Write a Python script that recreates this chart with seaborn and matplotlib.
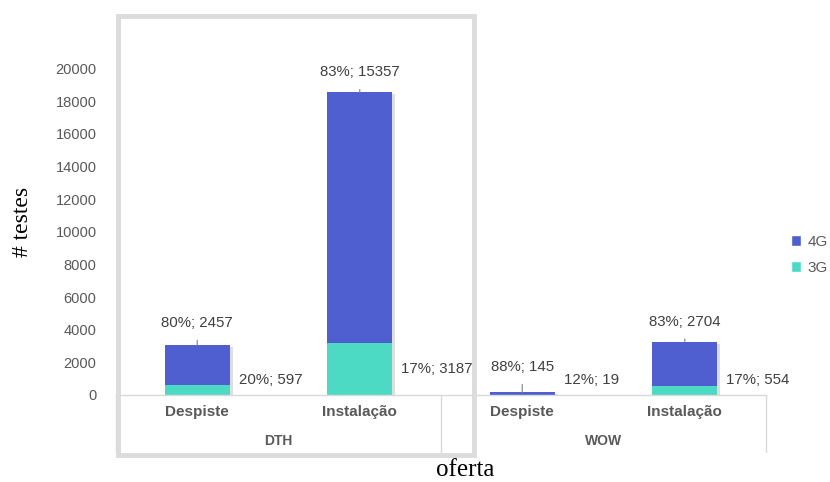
import matplotlib
matplotlib.use("Agg")
import matplotlib.pyplot as plt
import matplotlib.patheffects as pe
from matplotlib.patches import Patch, Rectangle
from matplotlib.transforms import blended_transform_factory
import seaborn as sns
import pandas as pd

# Data
ofertas = ["DTH", "DTH", "WOW", "WOW"]
tipos = ["Despiste", "Instalação", "Despiste", "Instalação"]
testes_4g = [2457, 15357, 145, 2704]
testes_3g = [597, 3187, 19, 554]
pct_4g = [80, 83, 88, 83]
pct_3g = [20, 17, 12, 17]
y_ticks = [0, 2000, 4000, 6000, 8000, 10000, 12000, 14000, 16000, 18000, 20000]

C4G = "#4F5FD0"
C3G = "#4CDAC4"
TXT = "#404040"
TICK = "#595959"

sns.set_theme(style="white")
plt.rcParams["font.family"] = ["Liberation Sans", "DejaVu Sans"]

df = pd.DataFrame({
    "oferta": ofertas,
    "tipo": tipos,
    "4G": testes_4g,
    "3G": testes_3g,
})
df["key"] = df["oferta"] + "|" + df["tipo"]
df["total"] = df["4G"] + df["3G"]

W, H = 830, 482
fig = plt.figure(figsize=(W / 100, H / 100), dpi=100)
ax = fig.add_axes([116 / W, (H - 395) / H, 650 / W, (395 - 36) / H])

sns.barplot(data=df, x="key", y="total", color=C4G, saturation=1, width=0.4,
            ax=ax, errorbar=None)
n_total = len(ax.patches)
sns.barplot(data=df, x="key", y="3G", color=C3G, saturation=1, width=0.4,
            ax=ax, errorbar=None)

for p in ax.patches[:n_total]:
    p.set_path_effects([pe.SimplePatchShadow(offset=(2, -1.5), shadow_rgbFace="#8a8a8a", alpha=0.28),
                        pe.Normal()])
for p in ax.patches:
    p.set_edgecolor("none")

ax.set_xlim(-0.5, 3.5)
ax.set_ylim(0, 22000)
ax.set_yticks(y_ticks)
ax.set_yticklabels([str(v) for v in y_ticks], fontsize=10.5, color=TICK)
ax.tick_params(axis="y", length=0, pad=14)
ax.set_xticks([])
ax.set_xlabel("")
ax.set_ylabel("")
for s in ["left", "right", "top"]:
    ax.spines[s].set_visible(False)
ax.spines["bottom"].set_color("#d9d9d9")
ax.spines["bottom"].set_linewidth(1)

# Value labels
offs_4g = [22, 20, 25, 20]
for i in range(len(df)):
    tot = testes_4g[i] + testes_3g[i]
    ax.annotate(f"{pct_4g[i]}%; {testes_4g[i]}", xy=(i, tot),
                xytext=(0, offs_4g[i]), textcoords="offset pixels",
                ha="center", va="center", fontsize=10.8, color=TXT,
                arrowprops=dict(arrowstyle="-", color="#8c8c8c", lw=0.9,
                                shrinkA=5, shrinkB=0))
    ax.annotate(f"{pct_3g[i]}%; {testes_3g[i]}", xy=(i + 0.2, max(testes_3g[i] / 2, 900)),
                xytext=(9, 0), textcoords="offset pixels",
                ha="left", va="center", fontsize=10.8, color=TXT)

# Two-level category table below the axis
tr = blended_transform_factory(ax.transData, ax.transAxes)
for xv in [-0.5, 1.5, 3.5]:
    ax.plot([xv, xv], [0, -0.159], transform=tr, color="#d9d9d9", lw=1, clip_on=False)
for i, t in enumerate(tipos):
    ax.text(i, -0.047, t, transform=tr, ha="center", va="center",
            fontsize=11, fontweight="bold", color=TICK)
for g, xc in [("DTH", 0.5), ("WOW", 2.5)]:
    ax.text(xc, -0.128, g, transform=tr, ha="center", va="center",
            fontsize=10, fontweight="bold", color=TICK)

# Highlight frame around the DTH group
fig.add_artist(Rectangle((118 / W, (H - 455) / H), (474 - 118) / W, (455 - 16) / H,
                         transform=fig.transFigure, fill=False,
                         edgecolor="#dcdcdc", lw=3.5))

# Axis titles
fig.text(22 / W, 1 - 222 / H, "# testes", rotation=90, ha="center", va="center",
         fontsize=17, family=["Liberation Serif", "DejaVu Serif"], color="black")
fig.text(465 / W, 1 - 470 / H, "oferta", ha="center", va="center",
         fontsize=18, family=["Liberation Serif", "DejaVu Serif"], color="black")

# Legend
handles = [Patch(facecolor=C4G, label="4G"), Patch(facecolor=C3G, label="3G")]
fig.legend(handles=handles, loc="center left", bbox_to_anchor=(777 / W, 1 - 255 / H),
           frameon=False, fontsize=11, handlelength=0.7, handleheight=0.7,
           handletextpad=0.4, labelspacing=0.8, labelcolor=TICK)

fig.savefig("out.png", dpi=100)
